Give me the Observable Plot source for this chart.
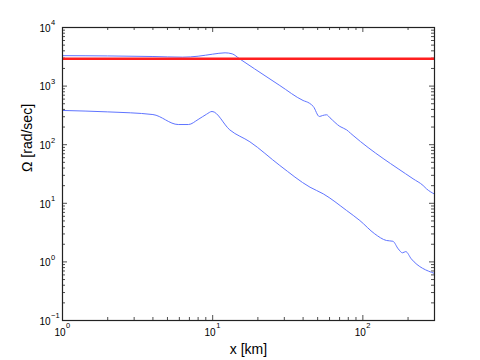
<!DOCTYPE html>
<html><head><meta charset="utf-8">
<script src="https://cdn.jsdelivr.net/npm/d3@7"></script>
<script src="https://cdn.jsdelivr.net/npm/@observablehq/plot@0.6"></script>
<style>body{margin:0;background:#fff} #chart{width:480px;height:360px}</style>
</head><body><div id="chart"></div>
<script>
// ---- data ----
const upperX = [1, 2, 4, 6.3, 8, 10, 12.1, 13.5, 15.1, 19, 28, 40, 44, 46.8, 51.3, 54, 57.4, 60.4, 70.3, 78, 82.8, 86.1, 216, 252, 265, 298];
const upperY = [3311, 3273, 3199, 3119, 3236, 3508, 3698, 3548, 2924, 1972, 1023, 568, 512, 449, 303, 315, 324, 288, 205, 179, 157, 144, 26.2, 20.1, 17.7, 14.5];
const lowerX = [1, 2, 4, 5.9, 6.9, 8, 9.1, 9.9, 13, 17.7, 28, 44.5, 54.5, 78, 95.5, 120, 143.5, 158.5, 172, 183.6, 193, 210, 298];
const lowerY = [384, 363, 327, 221, 221, 269, 331, 369, 179, 112, 44.2, 18.8, 14.5, 7.53, 5.08, 3.01, 2.32, 2.25, 1.67, 1.43, 1.50, 1.13, 0.64];
const limitValue = 2920;

const xDomain = [1, 300];
const yDomain = [0.1, 10000];
const xMajor = [1, 10, 100];
const xExp = ["0", "1", "2"];
const yMajor = [0.1, 1, 10, 100, 1000, 10000];
const yExp = ["\u22121", "0", "1", "2", "3", "4"];
const xTitle = "x [km]";
const yTitle = "\u03A9 [rad/sec]";

// ---- layout ----
const W = 480, H = 360;
const mL = 62, mR = 46, mT = 27, mB = 40;
const fw = W - mL - mR, fh = H - mT - mB;
const blue = "#5f74ff", red = "#ff1f1f", axisColor = "#222";
const font = "'Liberation Sans', Arial, Helvetica, sans-serif";

const minorOf = (majors, max) => {
  const out = [];
  majors.forEach(d => { for (let k = 2; k <= 9; k++) if (d * k <= max * 1.0001) out.push(d * k); });
  return out;
};
const xMinor = minorOf(xMajor, xDomain[1]);
const yMinor = minorOf(yMajor, yDomain[1]);

const upper = upperX.map((x, i) => ({x, y: upperY[i]}));
const lower = lowerX.map((x, i) => ({x, y: lowerY[i]}));

const majLen = 5, minLen = 3;
const tickStyle = {stroke: axisColor, strokeWidth: 0.8};

const chart = Plot.plot({
  width: W, height: H,
  marginLeft: mL, marginRight: mR, marginTop: mT, marginBottom: mB,
  style: {fontFamily: font, background: "#fff", color: "#000"},
  x: {type: "log", domain: xDomain, axis: null},
  y: {type: "log", domain: yDomain, axis: null},
  marks: [
    // ticks: bottom / top
    Plot.tickX(xMajor, {x: d => d, insetTop: fh - majLen, ...tickStyle}),
    Plot.tickX(xMinor, {x: d => d, insetTop: fh - minLen, ...tickStyle}),
    Plot.tickX(xMajor, {x: d => d, insetBottom: fh - majLen, ...tickStyle}),
    Plot.tickX(xMinor, {x: d => d, insetBottom: fh - minLen, ...tickStyle}),
    // ticks: left / right
    Plot.tickY(yMajor, {y: d => d, insetRight: fw - majLen, ...tickStyle}),
    Plot.tickY(yMinor, {y: d => d, insetRight: fw - minLen, ...tickStyle}),
    Plot.tickY(yMajor, {y: d => d, insetLeft: fw - majLen, ...tickStyle}),
    Plot.tickY(yMinor, {y: d => d, insetLeft: fw - minLen, ...tickStyle}),
    // data
    Plot.line(upper, {x: "x", y: "y", stroke: blue, strokeWidth: 1, curve: "monotone-x"}),
    Plot.line(lower, {x: "x", y: "y", stroke: blue, strokeWidth: 1, curve: "monotone-x"}),
    Plot.ruleY([limitValue], {stroke: red, strokeWidth: 2.5}),
    Plot.frame({stroke: axisColor, strokeWidth: 1.2}),
    // tick labels x
    Plot.text(xMajor, {x: d => d, frameAnchor: "bottom", text: () => "10", textAnchor: "end", dx: 3, dy: 12, fontSize: 10, lineAnchor: "middle", fill: "#000"}),
    Plot.text(xMajor, {x: d => d, frameAnchor: "bottom", text: (d, i) => xExp[i], textAnchor: "start", dx: 3.5, dy: 5, fontSize: 7.5, lineAnchor: "middle", fill: "#000"}),
    // tick labels y
    Plot.text(yMajor, {y: d => d, frameAnchor: "left", text: () => "10", textAnchor: "end", dx: -12, dy: 1, fontSize: 10, lineAnchor: "middle", fill: "#000"}),
    Plot.text(yMajor, {y: d => d, frameAnchor: "left", text: (d, i) => yExp[i], textAnchor: "start", dx: -11.5, dy: -4.5, fontSize: 7.5, lineAnchor: "middle", fill: "#000"}),
    // titles
    Plot.text([xTitle], {frameAnchor: "bottom", text: d => d, dy: 29, fontSize: 14, lineAnchor: "middle", fill: "#000"}),
    Plot.text([yTitle], {frameAnchor: "left", text: d => d, dx: -35, dy: -2, rotate: -90, fontSize: 14, lineAnchor: "middle", fill: "#000"})
  ]
});
document.getElementById("chart").appendChild(chart);
</script>
</body></html>
